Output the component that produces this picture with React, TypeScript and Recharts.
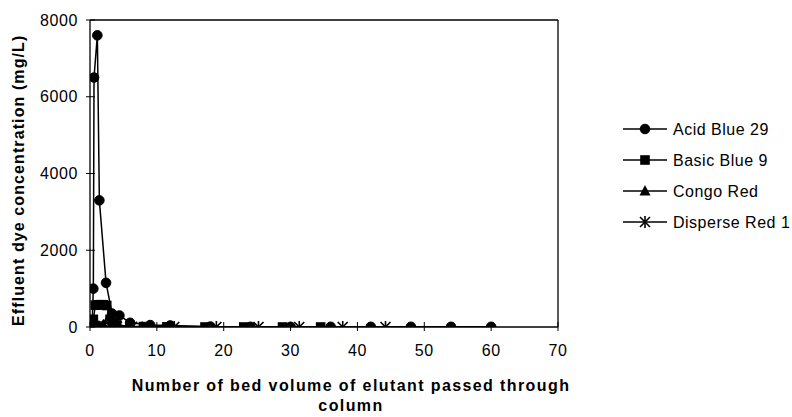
import React from "react";
import { LineChart, Line, XAxis, YAxis, ReferenceLine, Legend } from "recharts";

const xTicks = [0, 10, 20, 30, 40, 50, 60, 70];
const yTicks = [0, 2000, 4000, 6000, 8000];

const acidBlueX = [0.3, 0.5, 0.6, 1.1, 1.4, 2.4, 3.3, 4.4, 6, 9, 12, 18, 24, 30, 36, 42, 48, 54, 60];
const acidBlueY = [0, 1000, 6500, 7600, 3300, 1150, 350, 300, 110, 50, 40, 10, 5, 5, 5, 5, 5, 5, 5];

const basicBlueX = [0.2, 0.5, 0.8, 1.2, 1.6, 2.0, 2.5, 3.0, 3.5, 4.0, 6.0, 8.0, 11.5, 17.2, 23.0, 28.8, 34.5];
const basicBlueY = [0, 200, 570, 580, 580, 580, 560, 200, 100, 50, 20, 10, 5, 0, 0, 0, 0];

const congoX = [0.3, 0.7, 1.0, 2.0, 2.8, 3.5, 4.0, 6.0, 7.8];
const congoY = [50, 120, 80, 60, 250, 150, 30, 10, 5];

const disperseX = [0.3, 1.0, 2.0, 3.0, 4.0, 6.3, 12.6, 18.9, 25.2, 31.3, 37.8, 44.2];
const disperseY = [0, 20, 30, 20, 10, 5, 0, 0, 0, 0, 0, 0];

const seriesNames = ["Acid Blue 29", "Basic Blue 9", "Congo Red", "Disperse Red 1"];

const toData = (xs: number[], ys: number[]) => xs.map((x, i) => ({ x, y: ys[i] }));

const FONT = "'Liberation Sans', Arial, sans-serif";

const Marker = ({ kind, cx, cy }: { kind: number; cx: number; cy: number }) => {
  if (cx == null || cy == null || isNaN(cx) || isNaN(cy)) return null;
  if (kind === 0) return <circle cx={cx} cy={cy} r={4.8} fill="#000" stroke="#000" />;
  if (kind === 1) return <rect x={cx - 4.8} y={cy - 4.8} width={9.6} height={9.6} fill="#000" />;
  if (kind === 2)
    return <polygon points={`${cx},${cy - 6} ${cx + 5.5},${cy + 4.5} ${cx - 5.5},${cy + 4.5}`} fill="#000" />;
  return (
    <g stroke="#000" strokeWidth={1.6}>
      <line x1={cx - 5} y1={cy - 5} x2={cx + 5} y2={cy + 5} />
      <line x1={cx - 5} y1={cy + 5} x2={cx + 5} y2={cy - 5} />
      <line x1={cx} y1={cy - 6} x2={cx} y2={cy + 6} />
    </g>
  );
};

const mkDot = (kind: number) => (props: any) => (
  <Marker key={`${kind}-${props.index}`} kind={kind} cx={props.cx} cy={props.cy} />
);

const XTick = (props: any) => {
  const { x, y, payload } = props;
  return (
    <g>
      <line x1={x} x2={x} y1={y - 5} y2={y + 4} stroke="#000" />
      <text x={x} y={y + 29} textAnchor="middle" fontSize={16} letterSpacing={0.6} fontFamily={FONT} fill="#000">
        {payload.value}
      </text>
    </g>
  );
};

const YTick = (props: any) => {
  const { x, y, payload } = props;
  return (
    <g>
      <line x1={x - 4} x2={x + 5} y1={y} y2={y} stroke="#000" />
      <text x={x - 12} y={y} dy="0.35em" textAnchor="end" fontSize={16} letterSpacing={0.6} fontFamily={FONT} fill="#000">
        {payload.value}
      </text>
    </g>
  );
};

const LegendContent = () => (
  <svg width={170} height={130} style={{ display: "block" }}>
    {seriesNames.map((name, i) => {
      const cy = 9 + i * 31;
      return (
        <g key={name}>
          <line x1={0} x2={44} y1={cy} y2={cy} stroke="#000" strokeWidth={1.3} />
          <Marker kind={i} cx={22} cy={cy} />
          <text x={50} y={cy} dy="0.35em" fontSize={16} letterSpacing={0.5} fontFamily={FONT} fill="#000">
            {name}
          </text>
        </g>
      );
    })}
  </svg>
);

export default function App() {
  const sets = [
    toData(acidBlueX, acidBlueY),
    toData(basicBlueX, basicBlueY),
    toData(congoX, congoY),
    toData(disperseX, disperseY),
  ];
  return (
    <div style={{ position: "absolute", left: 0, top: 0, background: "#fff" }}>
      <LineChart width={792} height={417} margin={{ top: 20, right: 234, bottom: 60, left: 0 }}>
        <XAxis
          type="number"
          dataKey="x"
          domain={[0, 70]}
          ticks={xTicks}
          allowDataOverflow
          tickSize={0}
          tickMargin={0}
          tickLine={false}
          tick={<XTick />}
          height={30}
          stroke="#000"
          axisLine={{ stroke: "#000", strokeWidth: 1.3 }}
        />
        <YAxis
          type="number"
          dataKey="y"
          domain={[0, 8000]}
          ticks={yTicks}
          allowDataOverflow
          tickSize={0}
          tickMargin={0}
          tickLine={false}
          tick={<YTick />}
          width={90}
          axisLine={{ stroke: "#000", strokeWidth: 1.3 }}
        />
        <ReferenceLine y={8000} stroke="#000" strokeWidth={1.3} />
        <ReferenceLine x={70} stroke="#000" strokeWidth={1.3} />
        {sets.map((d, i) => (
          <Line
            key={seriesNames[i]}
            data={d}
            dataKey="y"
            name={seriesNames[i]}
            type="linear"
            stroke="#000"
            strokeWidth={1.5}
            dot={mkDot(i)}
            activeDot={false}
            isAnimationActive={false}
          />
        ))}
        <Legend
          layout="vertical"
          verticalAlign="middle"
          align="center"
          content={<LegendContent />}
          wrapperStyle={{ position: "absolute", left: 623, top: 120, width: 170, height: 130 }}
        />
        <text
          x={0}
          y={0}
          transform="translate(24 326) rotate(-90)"
          textAnchor="start"
          fontSize={16}
          fontWeight="bold"
          letterSpacing={1.1}
          fontFamily={FONT}
          fill="#000"
        >
          Effluent dye concentration (mg/L)
        </text>
        <text x={351} y={391} textAnchor="middle" fontSize={16} fontWeight="bold" letterSpacing={1.4} fontFamily={FONT} fill="#000">
          Number of bed volume of elutant passed through
        </text>
        <text x={351} y={411} textAnchor="middle" fontSize={16} fontWeight="bold" letterSpacing={1.4} fontFamily={FONT} fill="#000">
          column
        </text>
      </LineChart>
    </div>
  );
}
